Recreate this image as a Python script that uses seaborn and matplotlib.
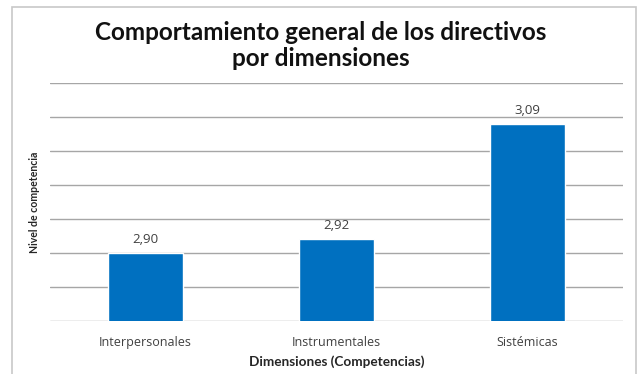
import matplotlib
matplotlib.use("Agg")
import matplotlib.pyplot as plt
import seaborn as sns
import pandas as pd
from matplotlib.patches import Rectangle

# Competency dimensions and the average level reached by the managers
dimensiones = ["Interpersonales", "Instrumentales", "Sistémicas"]
nivel = [2.90, 2.92, 3.09]
etiquetas = ["2,90", "2,92", "3,09"]

y_min, y_max, y_step = 2.80, 3.15, 0.05

df = pd.DataFrame({"dimension": dimensiones, "nivel": nivel})

sns.set_theme(style="white")
plt.rcParams["font.family"] = ["Lato", "DejaVu Sans"]

fig = plt.figure(figsize=(6.41, 3.74), dpi=100)
fig.patch.set_facecolor("white")

# light frame around the whole chart area
fig.add_artist(Rectangle((12 / 641, -0.01), 624 / 641, 1 - 7 / 374 + 0.01,
                         transform=fig.transFigure, fill=False,
                         edgecolor="#c8c8c8", linewidth=1.2))

ax = fig.add_axes([50 / 641, 1 - 321 / 374, 573 / 641, (321 - 83) / 374])

sns.barplot(data=df, x="dimension", y="nivel", color="#0070C0",
            width=0.39, saturation=1, ax=ax, zorder=3)

ax.set_ylim(y_min, y_max)
n_steps = int(round((y_max - y_min) / y_step))
ax.set_yticks([y_min + i * y_step for i in range(n_steps + 1)])
ax.yaxis.grid(True, color="#a6a6a6", linewidth=1.0)
ax.set_axisbelow(True)
ax.tick_params(axis="y", left=False, labelleft=False)
ax.tick_params(axis="x", bottom=False, labelsize=9, colors="#404040", pad=5)
for lab in ax.get_xticklabels():
    lab.set_family(["Open Sans", "DejaVu Sans"])
for s in ["top", "right", "left", "bottom"]:
    ax.spines[s].set_visible(False)

for patch, txt in zip(ax.patches, etiquetas):
    ax.annotate(txt, (patch.get_x() + patch.get_width() / 2, patch.get_height()),
                xytext=(0, 5), textcoords="offset points", ha="center",
                va="bottom", fontsize=9.5, color="#404040",
                family=["Open Sans", "DejaVu Sans"])

ax.set_xlabel("Dimensiones (Competencias)", fontsize=9.8, fontweight="bold",
              color="#262626", labelpad=4)
ax.set_ylabel("Nivel de competencia", fontsize=7.6, fontweight="bold",
              color="#262626")
ax.yaxis.set_label_coords(-0.018, 0.5)

fig.text(0.5, 1 - 32 / 374, "Comportamiento general de los directivos",
         ha="center", va="center", fontsize=17.5, fontweight="bold", color="#111111")
fig.text(0.5, 1 - 58 / 374, "por dimensiones",
         ha="center", va="center", fontsize=17.5, fontweight="bold", color="#111111")

fig.savefig("out.png", dpi=100, facecolor="white")
